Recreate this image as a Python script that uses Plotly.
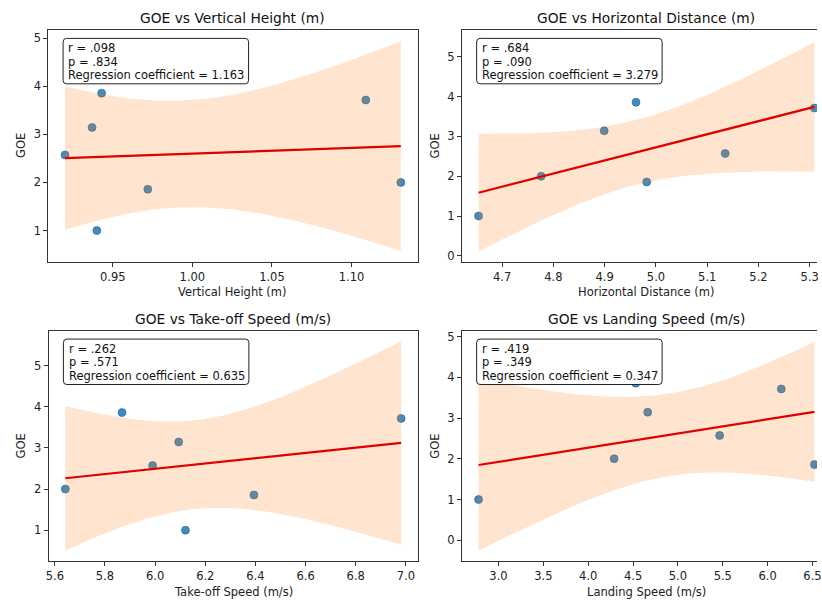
import numpy as np
import plotly.graph_objects as go

# ---------------- data ----------------
goe = [1.000, 2.000, 1.857, 2.571, 3.143, 3.714, 3.857]
vertical_height = [0.940, 1.131, 0.972, 0.920, 0.937, 1.109, 0.943]
horizontal_distance = [4.654, 4.776, 4.982, 5.135, 4.899, 5.309, 4.961]
takeoff_speed = [6.121, 5.642, 6.394, 5.990, 6.094, 6.981, 5.868]
landing_speed = [2.778, 4.289, 6.521, 5.465, 4.663, 6.152, 4.530]

titles = ["GOE vs Vertical Height (m)", "GOE vs Horizontal Distance (m)",
          "GOE vs Take-off Speed (m/s)", "GOE vs Landing Speed (m/s)"]
x_labels = ["Vertical Height (m)", "Horizontal Distance (m)",
            "Take-off Speed (m/s)", "Landing Speed (m/s)"]
r_labels = ["r = .098", "r = .684", "r = .262", "r = .419"]
p_labels = ["p = .834", "p = .090", "p = .571", "p = .349"]
coef_labels = ["Regression coefficient = 1.163", "Regression coefficient = 3.279",
               "Regression coefficient = 0.635", "Regression coefficient = 0.347"]
x_series = [vertical_height, horizontal_distance, takeoff_speed, landing_speed]

# ---------------- layout geometry (pixels) ----------------
W, H = 822, 601
panels = [(45.7, 418.7, 29.0, 261.7), (463.3, 836.3, 29.0, 261.7),
          (46.0, 419.0, 330.7, 562.3), (463.3, 836.3, 330.7, 562.3)]
y_ranges = [(0.349, 5.172), (-0.150, 5.676), (0.243, 5.847), (-0.521, 5.147)]
x_dticks = [0.05, 0.1, 0.2, 0.5]
x_formats = [".2f", ".1f", ".1f", ".1f"]
T_CRIT = {5: 2.5706}

def px(x):
    return x / W

def py(y):
    return 1 - y / H

fig = go.Figure()
font_family = "DejaVu Sans"
tick_font = dict(family=font_family, size=11.5, color="#222")
annotations = []
shapes = []

for i in range(4):
    xs = np.array(x_series[i], dtype=float)
    ys = np.array(goe, dtype=float)
    n = len(xs)
    slope, intercept = np.polyfit(xs, ys, 1)
    grid = np.linspace(xs.min(), xs.max(), 100)
    yhat = intercept + slope * grid
    resid = ys - (intercept + slope * xs)
    s = np.sqrt(np.sum(resid ** 2) / (n - 2))
    sxx = np.sum((xs - xs.mean()) ** 2)
    half = T_CRIT[n - 2] * s * np.sqrt(1.0 / n + (grid - xs.mean()) ** 2 / sxx)
    lo_band, hi_band = yhat - half, yhat + half

    xa = "x" if i == 0 else f"x{i+1}"
    ya = "y" if i == 0 else f"y{i+1}"

    fig.add_trace(go.Scatter(x=xs, y=ys, mode="markers", xaxis=xa, yaxis=ya,
                             marker=dict(size=8, color="rgba(31,119,180,0.85)",
                                         line=dict(width=0.6, color="rgba(31,90,140,0.9)")),
                             showlegend=False, hoverinfo="skip"))
    fig.add_trace(go.Scatter(x=np.concatenate([grid, grid[::-1]]),
                             y=np.concatenate([hi_band, lo_band[::-1]]),
                             mode="lines", fill="toself", xaxis=xa, yaxis=ya,
                             fillcolor="rgba(255,127,14,0.2)", line=dict(width=0),
                             showlegend=False, hoverinfo="skip"))
    fig.add_trace(go.Scatter(x=grid, y=yhat, mode="lines", xaxis=xa, yaxis=ya,
                             line=dict(color="#e00000", width=2.2),
                             showlegend=False, hoverinfo="skip"))

    # axis geometry
    x0, x1, y0, y1 = panels[i]
    x1_vis = min(x1, W)
    span = xs.max() - xs.min()
    lo, hi = xs.min() - 0.05 * span, xs.max() + 0.05 * span
    hi_vis = lo + (hi - lo) * (x1_vis - x0) / (x1 - x0)
    right_col = i in (1, 3)

    axis_common = dict(showline=True, linecolor="#333", linewidth=1, ticks="outside",
                       ticklen=4, tickwidth=1, tickcolor="#333", showgrid=False,
                       zeroline=False, tickfont=tick_font, ticklabeloverflow="allow")
    xname = "xaxis" if i == 0 else f"xaxis{i+1}"
    yname = "yaxis" if i == 0 else f"yaxis{i+1}"
    fig.update_layout(**{
        xname: dict(domain=[px(x0), px(x1_vis)], anchor=ya, range=[lo, hi_vis],
                    dtick=x_dticks[i], tick0=0, tickformat=x_formats[i],
                    mirror=True, **axis_common),
        yname: dict(domain=[py(y1), py(y0)], anchor=xa, range=list(y_ranges[i]),
                    dtick=1, tick0=0, tickformat="d",
                    mirror=not right_col, **axis_common),
    })

    cx = (x0 + x1) / 2
    # title
    annotations.append(dict(text=titles[i], xref="paper", yref="paper", x=px(cx),
                            y=py(y0 - 12), xanchor="center", yanchor="middle",
                            showarrow=False, font=dict(family=font_family, size=13.8, color="#111")))
    # x label
    annotations.append(dict(text=x_labels[i], xref="paper", yref="paper", x=px(cx),
                            y=py(y1 + 30.5), xanchor="center", yanchor="middle",
                            showarrow=False, font=dict(family=font_family, size=11.5, color="#222")))
    # y label
    annotations.append(dict(text="GOE", xref="paper", yref="paper", x=px(x0 - 27.4),
                            y=py((y0 + y1) / 2), xanchor="center", yanchor="middle",
                            textangle=-90, showarrow=False,
                            font=dict(family=font_family, size=11.5, color="#222")))
    # stats box
    bx0, bx1 = x0 + 15.0, x0 + 202.3
    by0, by1 = y0 + 8.5, y0 + 54.1
    r = 3.5
    pts = [("M", bx0 + r, by0), ("L", bx1 - r, by0), ("Q", bx1, by0, bx1, by0 + r),
           ("L", bx1, by1 - r), ("Q", bx1, by1, bx1 - r, by1), ("L", bx0 + r, by1),
           ("Q", bx0, by1, bx0, by1 - r), ("L", bx0, by0 + r), ("Q", bx0, by0, bx0 + r, by0)]
    path = ""
    for p in pts:
        cmd = p[0]
        coords = p[1:]
        segs = []
        for k in range(0, len(coords), 2):
            segs.append(f"{px(coords[k]):.6f},{py(coords[k+1]):.6f}")
        path += cmd + " " + " ".join(segs) + " "
    shapes.append(dict(type="path", path=path + "Z", xref="paper", yref="paper",
                       fillcolor="white", line=dict(color="#222", width=1), layer="above"))
    for j, txt in enumerate([r_labels[i], p_labels[i], coef_labels[i]]):
        annotations.append(dict(text=txt, xref="paper", yref="paper", x=px(x0 + 18.3),
                                y=py(by0 + 10.0 + 13.3 * j), xanchor="left", yanchor="middle",
                                showarrow=False,
                                font=dict(family=font_family, size=11.5, color="#111")))

fig.update_layout(width=W, height=H, margin=dict(l=0, r=0, t=0, b=0),
                  paper_bgcolor="white", plot_bgcolor="white",
                  annotations=annotations, shapes=shapes, showlegend=False)

fig.write_html("out.html",
               config={"displayModeBar": False},
               post_script="document.body.style.margin='0px';"
                           "document.body.style.padding='0px';"
                           "document.documentElement.style.overflow='hidden';"
                           "document.body.style.overflow='hidden';")
